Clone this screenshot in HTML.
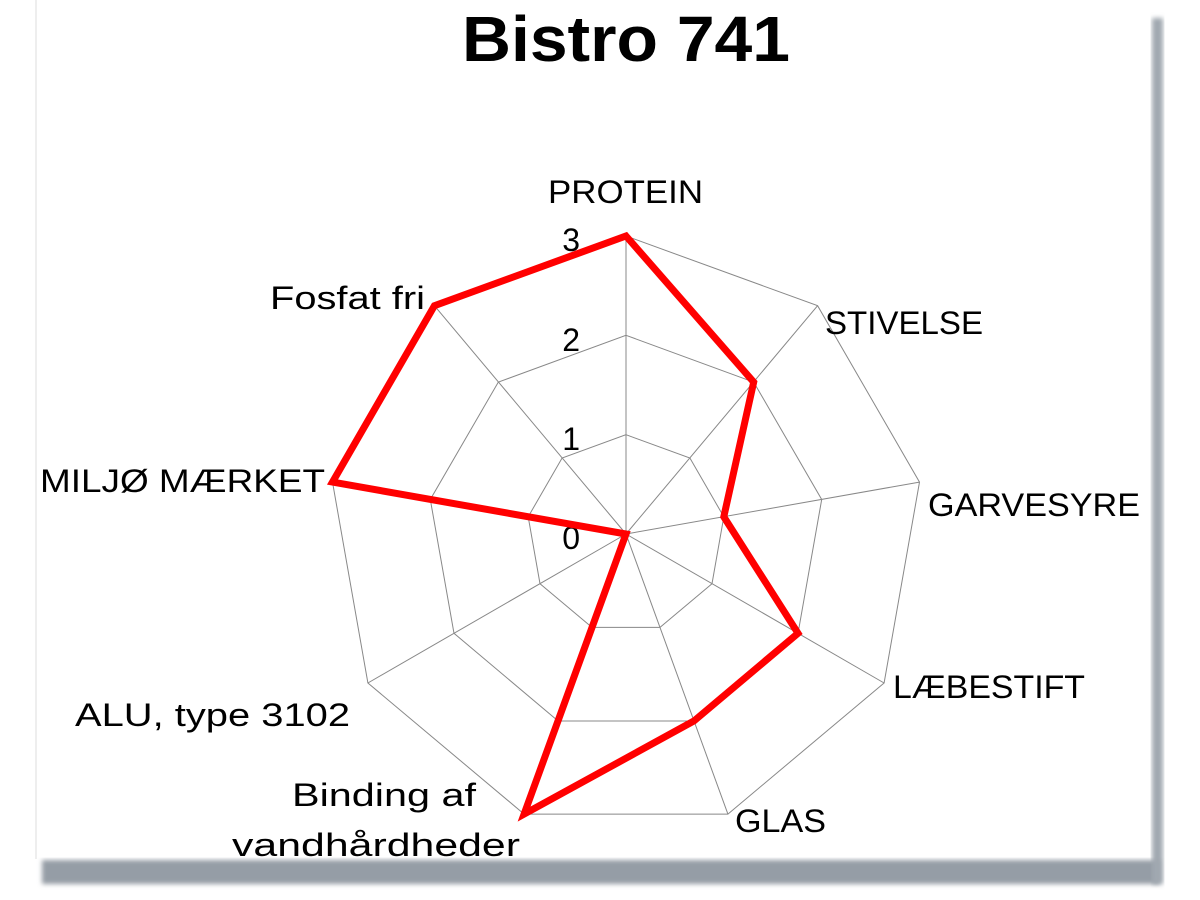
<!DOCTYPE html>
<html><head><meta charset="utf-8"><style>html,body{margin:0;padding:0;background:#fff;}svg{display:block}</style></head>
<body>
<svg width="1200" height="900" viewBox="0 0 1200 900" xmlns="http://www.w3.org/2000/svg">
<defs>
<filter id="b" x="-10%" y="-10%" width="120%" height="140%"><feGaussianBlur stdDeviation="2.5"/></filter>
</defs>
<rect width="1200" height="900" fill="#fff"/>
<g font-family="Liberation Sans, sans-serif" fill="#000">
<text x="462" y="61" font-size="64" font-weight="bold" textLength="328" lengthAdjust="spacingAndGlyphs">Bistro 741</text>
<g fill="none" stroke="#888" stroke-width="1">
<polygon points="626,236 817.6,305.7 919.5,482.1 884.1,683 727.9,814.1 524.1,814.1 367.9,683 332.5,482.1 434.4,305.7"/>
<polygon points="626,335.3 753.7,382.1 821.7,499.5 798,633.3 693.9,721 558.1,721 454,633.3 430.3,499.5 498.3,382.1"/>
<polygon points="626,434.7 689.9,458 723.8,516.8 712,583.7 660,627.4 592,627.4 540,583.7 528.2,516.8 562.1,458"/>
<path d="M626,534L626,236M626,534L817.6,305.7M626,534L919.5,482.1M626,534L884.1,683M626,534L727.9,814.1M626,534L524.1,814.1M626,534L367.9,683M626,534L332.5,482.1M626,534L434.4,305.7"/>
</g>
<g font-size="32" lengthAdjust="spacingAndGlyphs">
<text x="580" y="251" text-anchor="end">3</text>
<text x="580" y="351" text-anchor="end">2</text>
<text x="580" y="450" text-anchor="end">1</text>
<text x="580" y="549" text-anchor="end">0</text>
<text x="548" y="203" textLength="155" lengthAdjust="spacingAndGlyphs">PROTEIN</text>
<text x="825" y="334" textLength="158" lengthAdjust="spacingAndGlyphs">STIVELSE</text>
<text x="928" y="516" textLength="212" lengthAdjust="spacingAndGlyphs">GARVESYRE</text>
<text x="893" y="698" textLength="192" lengthAdjust="spacingAndGlyphs">LÆBESTIFT</text>
<text x="735" y="832" textLength="91" lengthAdjust="spacingAndGlyphs">GLAS</text>
<text x="292" y="806" textLength="184" lengthAdjust="spacingAndGlyphs">Binding af</text>
<text x="232" y="856" textLength="288" lengthAdjust="spacingAndGlyphs">vandhårdheder</text>
<text x="75" y="726" textLength="275" lengthAdjust="spacingAndGlyphs">ALU, type 3102</text>
<text x="40" y="492" textLength="285" lengthAdjust="spacingAndGlyphs">MILJØ MÆRKET</text>
<text x="270" y="309" textLength="155" lengthAdjust="spacingAndGlyphs">Fosfat fri</text>
</g>
<polygon points="626,236 753.7,382.1 723.8,516.8 798,633.3 693.9,721 524.1,814.1 626,534 332.5,482.1 434.4,305.7" fill="none" stroke="#f00" stroke-width="7" stroke-linejoin="miter"/>
</g>
<rect x="0" y="859" width="1200" height="41" fill="#fff"/>
<rect x="42" y="860" width="1118" height="24" fill="#959da6" filter="url(#b)"/>
<rect x="1152" y="18" width="11" height="866" fill="#a0a8b0" filter="url(#b)"/>
<line x1="36" y1="0" x2="36" y2="859" stroke="#eee" stroke-width="2"/>
</svg>
</body></html>
